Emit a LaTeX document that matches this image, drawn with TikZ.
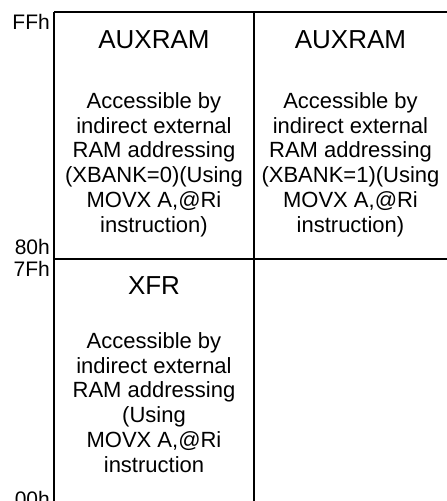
\documentclass[tikz,border=0pt]{standalone}
\usepackage{fontspec}
\setmainfont{Liberation Sans}
\begin{document}
\begin{tikzpicture}[x=1pt,y=1pt,
  gridline/.style={line width=2.2pt, draw=black},
  celltitle/.style={font=\fontsize{26}{30}\selectfont, anchor=base, inner sep=0pt},
  cellbody/.style={font=\fontsize{22}{24.75}\selectfont, anchor=base, inner sep=0pt, align=center},
  addrlabel/.style={font=\fontsize{21}{24}\selectfont, anchor=base east, inner sep=0pt}]
\useasboundingbox (0,0) rectangle (447,501);
\clip (0,0) rectangle (447,501);
% grid coordinates
\coordinate (tl) at (54,489);
\coordinate (tm) at (254,489);
\coordinate (tr) at (470,489);
\coordinate (ml) at (54,242);
\coordinate (mm) at (254,242);
\coordinate (mr) at (470,242);
\coordinate (bl) at (54,-20);
\coordinate (bm) at (254,-20);
\coordinate (br) at (470,-20);
\draw[gridline] (tl) -- (tr);
\draw[gridline] (ml) -- (mr);
\draw[gridline] (tl) -- (bl);
\draw[gridline] (tm) -- (bm);
\draw[gridline] (tr) -- (br);
\draw[gridline] (bl) -- (br);
% texts (body nodes anchored at the baseline of their last line)
\node[celltitle] (t1) at (154,452.7) {AUXRAM};
\node[celltitle] (t2) at (350.5,452.7) {AUXRAM};
\node[celltitle] (t3) at (154,206.7) {XFR};
\node[cellbody] (b1) at (154,268.95) {Accessible by\\indirect external\\RAM addressing\\(XBANK=0)(Using\\MOVX A,@Ri\\instruction)};
\node[cellbody] (b2) at (350.5,268.95) {Accessible by\\indirect external\\RAM addressing\\(XBANK=1)(Using\\MOVX A,@Ri\\instruction)};
\node[cellbody] (b3) at (154,28.95) {Accessible by\\indirect external\\RAM addressing\\(Using\\MOVX A,@Ri\\instruction};
\node[addrlabel] (a1) at (50,471) {FFh};
\node[addrlabel] (a2) at (50,246) {80h};
\node[addrlabel] (a3) at (50,224) {7Fh};
\node[addrlabel] (a4) at (50,-5.5) {00h};
\end{tikzpicture}
\end{document}
